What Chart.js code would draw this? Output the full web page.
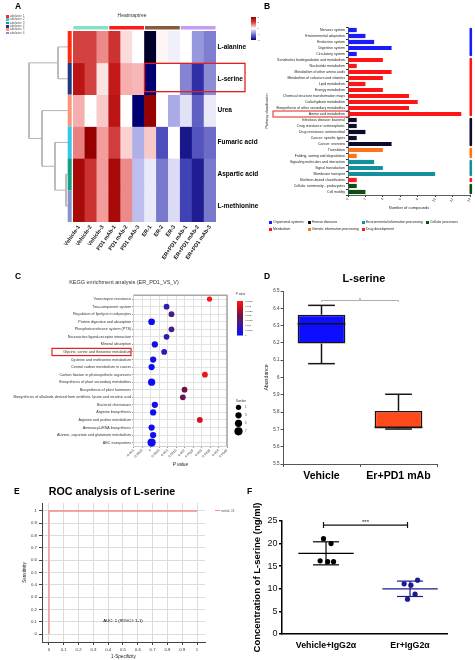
<!DOCTYPE html>
<html>
<head>
<meta charset="utf-8">
<title>L-serine figure</title>
<script src="https://cdn.jsdelivr.net/npm/chart.js@4.4.1/dist/chart.umd.min.js"></script>
<style>
  body { margin: 0; background: #fff; }
  #fig { position: relative; width: 475px; height: 660px; overflow: hidden; font-family: "Liberation Sans", Arial, sans-serif; }
  #fig canvas { position: absolute; }
  .txt { position: absolute; white-space: nowrap; line-height: 1; color: #000; }
  .mid { transform: translate(-50%, -50%); }
  .letter { font-weight: bold; font-size: 8.5px; }
  .key i { display: inline-block; vertical-align: middle; margin-right: 1px; }
</style>
</head>
<body>
<div id="fig">
  <canvas id="tree" width="73" height="275" style="left:0;top:0"></canvas>
  <canvas id="heat" width="265" height="275" style="left:0;top:0"></canvas>
  <canvas id="kegg" width="235" height="195" style="left:240px;top:20px"></canvas>
  <canvas id="bubble" width="262" height="185" style="left:0;top:285px"></canvas>
  <canvas id="box" width="240" height="195" style="left:235px;top:285px"></canvas>
  <canvas id="roc" width="240" height="165" style="left:0;top:495px"></canvas>
  <canvas id="dots" width="240" height="165" style="left:235px;top:495px"></canvas>

  <div class="txt letter" style="left:15px;top:1.5px">A</div>
  <div class="txt mid" style="left:132px;top:15px;font-size:5px;color:#333">Heatmaptree</div>
  <div class="txt letter" style="left:264px;top:1.5px">B</div>
  <div class="txt letter" style="left:15px;top:271.5px">C</div>
  <div class="txt mid" style="left:124px;top:283px;font-size:5.5px;color:#333">KEGG enrichment analysis (ER_PD1_VS_V)</div>
  <div class="txt letter" style="left:264px;top:271.5px">D</div>
  <div class="txt mid" style="left:364px;top:277.5px;font-size:11px;font-weight:bold">L-serine</div>
  <div class="txt letter" style="left:14px;top:486.5px">E</div>
  <div class="txt mid" style="left:112px;top:490.5px;font-size:10.7px;font-weight:bold">ROC analysis of L-serine</div>
  <div class="txt mid" style="left:123px;top:621px;font-size:4.3px">AUC: 1 (95%CI: 1-1)</div>
  <div class="txt key" style="left:215px;top:509.5px;font-size:3px;color:#555"><i style="width:5px;height:0.8px;background:#f38b8b"></i>metab_24</div>
  <div class="txt letter" style="left:247px;top:486.5px">F</div>
  <div id="subKey"></div>
  <div id="pathKey"></div>
</div>
<script>
// ---- A: heatmap ----
const heatCols = ["Vehicle-1", "Vehicle-2", "Vehicle-3", "PD1 mAb-1", "PD1 mAb-2", "PD1 mAb-3",
  "ER-1", "ER-2", "ER-3", "ER+PD1 mAb-1", "ER+PD1 mAb-2", "ER+PD1 mAb-3"];
const colGroupOf = [0, 0, 0, 1, 1, 1, 2, 2, 2, 3, 3, 3];
const heatRows = ["L-alanine", "L-serine", "Urea", "Fumaric acid", "Aspartic acid", "L-methionine"];
const heatVals = [
  [1.1, 1.1, 0.65, 1.25, 0.2, 0, -2.5, 0.05, -0.1, 0, -0.75, -0.95],
  [1.6, 1.1, 0.15, 1.5, 0.45, 0.4, -2, 0, 0, -0.9, -1.6, -0.85],
  [0.45, 0, 0.3, 1.6, 0, -2, 2, 0, -0.6, -0.2, -1.2, -0.15],
  [0.7, 2, 0.55, 1.15, 0.25, -0.55, 0.3, -1.35, 0, -1.8, -1.3, -1.1],
  [1.8, 1.25, 0.55, 1.8, 0.65, -0.45, -0.15, -1.0, -0.25, -1.45, -1.75, -1.0],
  [1.8, 1.25, 0.55, 1.8, 0.65, -0.45, -0.15, -1.0, -0.25, -1.45, -1.75, -1.0]
];
const subclusters = ["subcluster_1", "subcluster_2", "subcluster_3", "subcluster_4", "subcluster_5", "subcluster_6"];
const rowCluster = [0, 3, 4, 1, 2, 5];
// [left node, right node, height]; leaves are 0-5, merges get ids 6, 7, ...
const treeMerges = [[0, 1, 10], [4, 5, 2], [3, 7, 13], [2, 8, 26], [6, 9, 39]];
const heatScale = [2, 1, 0, -1, -2];

// ---- B: pathway classification ----
const bPaths = ["Nervous system", "Environmental adaptation", "Endocrine system", "Digestive system",
  "Circulatory system", "Xenobiotics biodegradation and metabolism", "Nucleotide metabolism",
  "Metabolism of other amino acids", "Metabolism of cofactors and vitamins", "Lipid metabolism",
  "Energy metabolism", "Chemical structure transformation maps", "Carbohydrate metabolism",
  "Biosynthesis of other secondary metabolites", "Amino acid metabolism", "Infectious disease: bacterial",
  "Drug resistance: antineoplastic", "Drug resistance: antimicrobial", "Cancer: specific types",
  "Cancer: overview", "Translation", "Folding, sorting and degradation", "Signaling molecules and interaction",
  "Signal transduction", "Membrane transport", "Skeleton-based classification",
  "Cellular community - prokaryotes", "Cell motility"];
const bCounts = [1, 2, 3, 5, 1, 4, 1, 5, 4, 2, 4, 7, 8, 7, 13, 1, 1, 2, 1, 5, 4, 1, 3, 4, 10, 1, 1, 2];
const bGroups = ["Organismal systems", "Metabolism", "Human diseases", "Genetic information processing",
  "Environmental information processing", "Drug development", "Cellular processes"];
const bGroupOf = [0, 0, 0, 0, 0, 1, 1, 1, 1, 1, 1, 1, 1, 1, 1, 2, 2, 2, 2, 2, 3, 3, 4, 4, 4, 5, 6, 6];
const bTicks = [0, 2, 4, 6, 8, 10, 12, 14];

// ---- C: KEGG enrichment ----
const cPaths = ["Vancomycin resistance", "Two-component system", "Regulation of lipolysis in adipocytes",
  "Protein digestion and absorption", "Phosphotransferase system (PTS)", "Neuroactive ligand-receptor interaction",
  "Mineral absorption", "Glycine, serine and threonine metabolism", "Cysteine and methionine metabolism",
  "Central carbon metabolism in cancer", "Carbon fixation in photosynthetic organisms",
  "Biosynthesis of plant secondary metabolites", "Biosynthesis of plant hormones",
  "Biosynthesis of alkaloids derived from ornithine, lysine and nicotinic acid", "Bacterial chemotaxis",
  "Arginine biosynthesis", "Arginine and proline metabolism", "Aminoacyl-tRNA biosynthesis",
  "Alanine, aspartate and glutamate metabolism", "ABC transporters"];
const cPvals = [0.00347, 0.00094, 0.00123, 0.00006, 0.00123, 0.00094, 0.00025, 0.0008, 0.00015, 0.00006,
  0.0032, 0.00006, 0.002, 0.0019, 0.00025, 0.00015, 0.0029, 0.00006, 0.00015, 0.00006];
const cCounts = [1, 2, 2, 4, 2, 2, 3, 2, 3, 3, 2, 5, 2, 2, 3, 3, 2, 3, 3, 7];
const cNumberKey = [1, 3, 5, 7];
const cPvalKey = [0.0035, 0.003, 0.0025, 0.002, 0.0015, 0.001, 0.0005, 0];

// ---- D: box plot ----
const boxGroups = ["Vehicle", "Er+PD1 mAb"];
const boxMin = [6.08, 5.702];
const boxQ1 = [6.196, 5.705];
const boxMed = [6.311, 5.712];
const boxQ3 = [6.363, 5.807];
const boxMax = [6.417, 5.903];

// ---- E: ROC ----
const rocFpr = [0, 0, 1];
const rocTpr = [0, 1, 1];
const rocTicks = [0, 0.1, 0.2, 0.3, 0.4, 0.5, 0.6, 0.7, 0.8, 0.9, 1];

// ---- F: concentrations ----
const fGroups = ["Vehicle+IgG2\u03b1", "Er+IgG2\u03b1"];
const vehConc = [21.1, 20.0, 16.2, 16.0, 16.0];
const vehJitter = [-0.03, 0.06, -0.07, 0.02, 0.09];
const erConc = [11.9, 11.1, 10.8, 8.8, 7.7];
const erJitter = [0.09, -0.07, 0.01, 0.06, -0.03];
const fMean = [17.85, 10.0];
const fSd = [2.55, 1.7];
const fTicks = [0, 5, 10, 15, 20, 25];

// colours
const colGroupColors = ["#86e0c9", "#ff1a1a", "#8a5a3a", "#c49cf2"];
const subclusterColors = ["#ff2a12", "#33c6e8", "#14a082", "#1c3a82", "#f8977a", "#8595cc"];
const bColors = ["#1a1aff", "#ff1515", "#0b0b2a", "#ff7417", "#14909c", "#ff1a1a", "#0c4d12"];
const heatStops = [[-2.5, [0, 0, 40]], [-2, [0, 0, 112]], [-1.5, [60, 60, 180]], [-1, [120, 120, 205]],
  [-0.5, [182, 182, 236]], [0, [255, 255, 255]], [0.5, [245, 165, 165]], [1, [215, 75, 75]],
  [1.5, [195, 25, 25]], [2, [150, 0, 0]]];
const pStops = [[0, [10, 10, 255]], [0.0009, [45, 28, 175]], [0.00125, [72, 28, 135]],
  [0.002, [112, 18, 72]], [0.0029, [212, 15, 30]], [0.0035, [255, 22, 22]]];

Chart.defaults.font.family = '"Liberation Sans", Arial, sans-serif';
Chart.defaults.color = "#222";
Chart.defaults.plugins.legend.display = false;
Chart.defaults.plugins.tooltip.enabled = false;

function mixStops(stops, v) {
  if (v <= stops[0][0]) return stops[0][1];
  for (let i = 1; i < stops.length; i++) {
    if (v <= stops[i][0]) {
      const a = stops[i - 1], b = stops[i], t = (v - a[0]) / (b[0] - a[0]);
      return a[1].map((c, k) => Math.round(c + (b[1][k] - c) * t));
    }
  }
  return stops[stops.length - 1][1];
}
const rgb = c => "rgb(" + c[0] + "," + c[1] + "," + c[2] + ")";
const heatColor = v => rgb(mixStops(heatStops, v));
const pColor = v => rgb(mixStops(pStops, v));
const bubbleR = n => 2.4 + 0.24 * n;
const fixSize = px => s => { if (s.isHorizontal()) s.height = px; else s.width = px; };

function gradientBar(ctx, stops, lo, hi, x, y, w, h) {
  const g = ctx.createLinearGradient(0, y, 0, y + h);
  stops.filter(s => s[0] >= lo && s[0] <= hi)
    .forEach(s => g.addColorStop((hi - s[0]) / (hi - lo), rgb(s[1])));
  ctx.fillStyle = g;
  ctx.fillRect(x, y, w, h);
}

// small html keys
(function () {
  let html = "";
  subclusters.forEach((s, k) => {
    html += '<div class="txt key" style="left:6px;top:' + (15 + k * 3.3) + 'px;font-size:2.6px;color:#444">' +
      '<i style="width:2.7px;height:2.7px;background:' + subclusterColors[k] + '"></i>' + s + "</div>";
  });
  document.getElementById("subKey").innerHTML = html;
  const keyX = [269, 308, 362, 426], keyY = [220.5, 227.5];
  html = "";
  bGroups.forEach((g, k) => {
    html += '<div class="txt key" style="left:' + keyX[Math.floor(k / 2)] + 'px;top:' + keyY[k % 2] +
      'px;font-size:3.4px;color:#222"><i style="width:3px;height:3px;background:' + bColors[k] + '"></i>' + g + "</div>";
  });
  document.getElementById("pathKey").innerHTML = html;
})();

// ---- A: dendrogram ----
const treeNodes = heatRows.map((_, i) => ({ y: i + 0.5, h: 0 }));
treeMerges.forEach(m => treeNodes.push({ y: (treeNodes[m[0]].y + treeNodes[m[1]].y) / 2, h: m[2] }));
new Chart(document.getElementById("tree"), {
  type: "scatter",
  data: {
    datasets: treeMerges.map(m => {
      const a = treeNodes[m[0]], b = treeNodes[m[1]];
      return {
        data: [{ x: a.h, y: a.y }, { x: m[2], y: a.y }, { x: m[2], y: b.y }, { x: b.h, y: b.y }],
        showLine: true, borderColor: "#b3b3b3", borderWidth: 1, pointRadius: 0, clip: false
      };
    })
  },
  options: {
    responsive: false, animation: false,
    layout: { padding: { left: 28, right: 5, top: 31, bottom: 53 } },
    scales: {
      x: { type: "linear", min: 0, max: 40, reverse: true, display: false },
      y: { min: 0, max: 6, reverse: true, display: false }
    }
  }
});

// ---- A: heatmap ----
const heatDecor = {
  id: "heatDecor",
  afterDraw(chart) {
    const { ctx, chartArea: a, scales: { x, y } } = chart;
    const w = (a.right - a.left) / heatCols.length;
    ctx.save();
    colGroupColors.forEach((c, k) => {
      const cols = colGroupOf.map((g, j) => g === k ? j : -1).filter(j => j >= 0);
      const x0 = x.getPixelForValue(cols[0]) - w / 2, x1 = x.getPixelForValue(cols[cols.length - 1]) + w / 2;
      ctx.fillStyle = c;
      ctx.fillRect(x0 + 0.5, a.top - 5, x1 - x0 - 1, 3.5);
    });
    heatRows.forEach((r, i) => {
      const y0 = y.getPixelForValue(i), y1 = y.getPixelForValue(i + 1);
      ctx.fillStyle = subclusterColors[rowCluster[i]];
      ctx.fillRect(a.left - 5.3, y0, 4, y1 - y0);
    });
    // colour scale
    gradientBar(ctx, heatStops, -2, 2, 251, 17, 5, 23);
    ctx.fillStyle = "#444";
    ctx.font = "2.5px 'Liberation Sans', Arial";
    ctx.textBaseline = "middle";
    heatScale.forEach(v => ctx.fillText(String(v), 257.5, 17 + (2 - v) / 4 * 23));
    // highlight L-serine
    ctx.strokeStyle = "#e41e1e";
    ctx.lineWidth = 1.3;
    const hx = x.getPixelForValue(6) - w / 2;
    ctx.strokeRect(hx, y.getPixelForValue(1) + 0.5, 245 - hx, y.getPixelForValue(2) - y.getPixelForValue(1) - 3.5);
    ctx.restore();
  }
};
new Chart(document.getElementById("heat"), {
  type: "bar",
  data: {
    labels: heatCols,
    datasets: heatRows.map((name, i) => ({
      label: name,
      data: heatCols.map(() => [i, i + 1]),
      backgroundColor: heatVals[i].map(heatColor),
      borderWidth: 0, grouped: false, barPercentage: 1, categoryPercentage: 1
    }))
  },
  options: {
    responsive: false, animation: false,
    layout: { padding: { left: 73, top: 31 } },
    scales: {
      x: {
        grid: { display: false, drawTicks: false }, border: { display: false },
        ticks: { font: { size: 5.5, weight: "bold" }, color: "#111", minRotation: 55, maxRotation: 55, padding: 2, autoSkip: false },
        afterFit: fixSize(53)
      },
      y: {
        position: "right", min: 0, max: 6, reverse: true,
        grid: { display: false, drawTicks: false }, border: { display: false },
        afterBuildTicks: s => { s.ticks = heatRows.map((_, i) => ({ value: i + 0.5 })); },
        ticks: { callback: v => heatRows[Math.floor(v)], font: { size: 6.5, weight: "bold" }, color: "#000", padding: 1.5 },
        afterFit: fixSize(49)
      }
    }
  },
  plugins: [heatDecor]
});

// ---- B: pathway classification ----
const bDecor = {
  id: "bDecor",
  afterDraw(chart) {
    const { ctx, scales: { x, y } } = chart;
    const step = y.getPixelForValue(1) - y.getPixelForValue(0);
    const px = x.getPixelForValue(bTicks[bTicks.length - 1]);
    ctx.save();
    ctx.lineCap = "round";
    ctx.lineWidth = 2.6;
    let start = 0;
    for (let i = 1; i <= bGroupOf.length; i++) {
      if (i === bGroupOf.length || bGroupOf[i] !== bGroupOf[start]) {
        ctx.strokeStyle = bColors[bGroupOf[start]];
        ctx.beginPath();
        ctx.moveTo(px + 0.8, y.getPixelForValue(start) - step / 2 + 2);
        ctx.lineTo(px + 0.8, y.getPixelForValue(i - 1) + step / 2 - 2);
        ctx.stroke();
        start = i;
      }
    }
    const ay = y.getPixelForValue(bPaths.indexOf("Amino acid metabolism"));
    ctx.strokeStyle = "#e41e1e";
    ctx.lineWidth = 1;
    ctx.lineCap = "butt";
    ctx.strokeRect(33, ay - 3, 76.5, 6);
    ctx.restore();
  }
};
new Chart(document.getElementById("kegg"), {
  type: "bar",
  data: {
    labels: bPaths,
    datasets: bGroups.map((g, k) => ({
      label: g,
      data: bCounts.map((v, i) => bGroupOf[i] === k ? v : null),
      backgroundColor: bColors[k],
      grouped: false, barPercentage: 0.7, categoryPercentage: 1
    }))
  },
  options: {
    indexAxis: "y", responsive: false, animation: false,
    layout: { padding: { left: 25, right: 5, top: 7 } },
    scales: {
      x: {
        min: 0, max: 14,
        afterBuildTicks: s => { s.ticks = bTicks.map(v => ({ value: v })); },
        ticks: { font: { size: 3.4 }, color: "#333", minRotation: 60, maxRotation: 60, padding: 0.5, autoSkip: false },
        grid: { drawOnChartArea: false, tickLength: 2, tickColor: "#333" },
        border: { color: "#333", width: 0.8 },
        title: { display: true, text: "Number of compounds", font: { size: 4 }, color: "#222", padding: { top: 0, bottom: 4.5 } },
        afterFit: fixSize(20)
      },
      y: {
        ticks: { font: { size: 3.5 }, color: "#222", autoSkip: false, padding: 1 },
        grid: { drawOnChartArea: false, tickLength: 2, tickColor: "#333" },
        border: { color: "#333", width: 0.8 },
        title: { display: true, text: "Pathway classification", font: { size: 3.6 }, color: "#222", padding: 0 },
        afterFit: fixSize(83)
      }
    }
  },
  plugins: [bDecor]
});

// ---- C: KEGG enrichment bubbles ----
const cDecor = {
  id: "cDecor",
  afterDraw(chart) {
    const { ctx, chartArea: a, scales: { y } } = chart;
    ctx.save();
    ctx.strokeStyle = "#a8a8a8";
    ctx.lineWidth = 1.6;
    ctx.beginPath();
    ctx.moveTo(a.left, a.top); ctx.lineTo(a.right, a.top); ctx.lineTo(a.right, a.bottom);
    ctx.stroke();
    // p value scale
    ctx.font = "2.8px 'Liberation Sans', Arial";
    ctx.fillStyle = "#333";
    ctx.textBaseline = "middle";
    ctx.fillText("P value", 236, 9);
    gradientBar(ctx, pStops, 0, 0.0035, 237, 16, 6, 34.5);
    ctx.font = "2.5px 'Liberation Sans', Arial";
    ctx.fillStyle = "#333";
    cPvalKey.forEach(v => ctx.fillText(String(v), 245, 16 + (0.0035 - v) / 0.0035 * 34.5));
    // number key
    ctx.font = "2.8px 'Liberation Sans', Arial";
    ctx.fillText("Number", 236, 116);
    cNumberKey.forEach((n, k) => {
      const cy = 122.3 + k * 8;
      ctx.fillStyle = "#000";
      ctx.beginPath(); ctx.arc(238.5, cy, bubbleR(n), 0, Math.PI * 2); ctx.fill();
      ctx.fillStyle = "#333";
      ctx.fillText(String(n), 245, cy);
    });
    // highlight glycine pathway
    const gy = y.getPixelForValue(cPaths.indexOf("Glycine, serine and threonine metabolism"));
    ctx.strokeStyle = "#e41e1e";
    ctx.lineWidth = 1.2;
    ctx.strokeRect(52, gy - 3.6, 79, 7.2);
    ctx.restore();
  }
};
new Chart(document.getElementById("bubble"), {
  type: "bubble",
  data: {
    datasets: [{
      data: cPaths.map((p, i) => ({ x: cPvals[i], y: p, r: bubbleR(cCounts[i]) })),
      backgroundColor: cPvals.map(pColor),
      borderWidth: 0
    }]
  },
  options: {
    responsive: false, animation: false,
    layout: { padding: { top: 10.3, right: 35 } },
    scales: {
      x: {
        type: "linear", min: -0.001, max: 0.0045,
        ticks: { stepSize: 0.0005, font: { size: 3.4 }, color: "#333", minRotation: 45, maxRotation: 45, padding: 0.5,
          autoSkip: false, callback: v => String(+v.toFixed(4)) },
        grid: { color: "#e2e2e2", tickLength: 1.5, tickColor: "#888" },
        border: { color: "#d0d0d0" },
        title: { display: true, text: "P value", font: { size: 4.6, style: "italic" }, color: "#222", padding: { top: 0, bottom: 3 } },
        afterFit: fixSize(23.6)
      },
      y: {
        type: "category", labels: cPaths, offset: true,
        ticks: { font: { size: 3.7 }, color: "#333", autoSkip: false, padding: 1 },
        grid: { color: "#e2e2e2", tickLength: 1.5, tickColor: "#888" },
        border: { color: "#d0d0d0" },
        afterFit: fixSize(133.6)
      }
    }
  },
  plugins: [cDecor]
});

// ---- D: box plot ----
const boxDecor = {
  id: "boxDecor",
  afterDatasetsDraw(chart) {
    const { ctx, scales: { x, y } } = chart;
    const line = (x0, y0, x1, y1) => { ctx.beginPath(); ctx.moveTo(x0, y0); ctx.lineTo(x1, y1); ctx.stroke(); };
    ctx.save();
    ctx.strokeStyle = "#151515";
    ctx.lineWidth = 1.5;
    chart.getDatasetMeta(0).data.forEach((bar, i) => {
      const half = bar.width / 2, cap = bar.width * 0.28;
      line(bar.x - half, y.getPixelForValue(boxMed[i]), bar.x + half, y.getPixelForValue(boxMed[i]));
      line(bar.x, y.getPixelForValue(boxQ3[i]), bar.x, y.getPixelForValue(boxMax[i]));
      line(bar.x - cap, y.getPixelForValue(boxMax[i]), bar.x + cap, y.getPixelForValue(boxMax[i]));
      line(bar.x, y.getPixelForValue(boxQ1[i]), bar.x, y.getPixelForValue(boxMin[i]));
      line(bar.x - cap, y.getPixelForValue(boxMin[i]), bar.x + cap, y.getPixelForValue(boxMin[i]));
    });
    // significance bracket
    const x0 = x.getPixelForValue(0), x1 = x.getPixelForValue(1), by = y.getPixelForValue(6.445);
    ctx.strokeStyle = "#9a9a9a";
    ctx.lineWidth = 0.8;
    ctx.beginPath();
    ctx.moveTo(x0, by + 1.5); ctx.lineTo(x0, by); ctx.lineTo(x1, by); ctx.lineTo(x1, by + 1.5);
    ctx.stroke();
    ctx.fillStyle = "#ee1c1c";
    ctx.font = "5px 'Liberation Sans', Arial";
    ctx.textAlign = "center";
    ctx.textBaseline = "middle";
    ctx.fillText("*", (x0 + x1) / 2, by - 0.3);
    ctx.restore();
  }
};
new Chart(document.getElementById("box"), {
  type: "bar",
  data: {
    labels: boxGroups,
    datasets: [{
      data: boxGroups.map((_, i) => [boxQ1[i], boxQ3[i]]),
      backgroundColor: ["#0d0dff", "#ff4a1c"],
      borderColor: "#151515", borderWidth: 1.5, borderSkipped: false,
      barPercentage: 0.62, categoryPercentage: 1
    }]
  },
  options: {
    responsive: false, animation: false,
    layout: { padding: { left: 28, right: 38, top: 6 } },
    scales: {
      x: {
        grid: { drawOnChartArea: false, tickLength: 3, color: "#555" },
        border: { color: "#555", width: 1 },
        ticks: { font: { size: 10.6, weight: "bold" }, color: "#000", padding: 3 },
        afterFit: fixSize(16)
      },
      y: {
        min: 5.5, max: 6.5,
        ticks: { stepSize: 0.1, font: { size: 4.5 }, color: "#333", padding: 1, callback: v => String(+v.toFixed(1)) },
        grid: { drawOnChartArea: false, tickLength: 2.5, color: "#555" },
        border: { color: "#555", width: 1 },
        title: { display: true, text: "Abundance", font: { size: 5.2 }, color: "#222", padding: 0 },
        afterFit: fixSize(20)
      }
    }
  },
  plugins: [boxDecor]
});

// ---- E: ROC ----
new Chart(document.getElementById("roc"), {
  type: "scatter",
  data: {
    datasets: [{
      data: rocFpr.map((v, i) => ({ x: v, y: rocTpr[i] })),
      showLine: true, borderColor: "#f38b8b", borderWidth: 1.3, pointRadius: 0, clip: false
    }]
  },
  options: {
    responsive: false, animation: false,
    layout: { padding: { left: 22, right: 35, top: 8 } },
    scales: {
      x: {
        min: -0.047, max: 1.054,
        afterBuildTicks: s => { s.ticks = rocTicks.map(v => ({ value: v })); },
        ticks: { font: { size: 4.3 }, color: "#333", padding: 2, maxRotation: 0, autoSkip: false, callback: v => String(+v.toFixed(1)) },
        grid: { color: "#dcdcdc", tickLength: 3, tickColor: "#444" },
        border: { color: "#444", width: 1 },
        title: { display: true, text: "1-Specificity", font: { size: 4.6 }, color: "#222", padding: { top: 0, bottom: 0.3 } },
        afterFit: fixSize(18)
      },
      y: {
        min: -0.065, max: 1.065,
        afterBuildTicks: s => { s.ticks = rocTicks.map(v => ({ value: v })); },
        ticks: { font: { size: 4.3 }, color: "#333", padding: 2, autoSkip: false, callback: v => String(+v.toFixed(1)) },
        grid: { color: "#dcdcdc", tickLength: 3, tickColor: "#444" },
        border: { color: "#444", width: 1 },
        title: { display: true, text: "Sensitivity", font: { size: 4.6 }, color: "#222", padding: 0 },
        afterFit: fixSize(20)
      }
    }
  }
});

// ---- F: concentration dot plot ----
const dotDecor = {
  id: "dotDecor",
  afterDatasetsDraw(chart) {
    const { ctx, scales: { x, y } } = chart;
    const colors = ["#000", "#1b1b8f"];
    const line = (x0, y0, x1, y1) => { ctx.beginPath(); ctx.moveTo(x0, y0); ctx.lineTo(x1, y1); ctx.stroke(); };
    ctx.save();
    ctx.lineWidth = 1.2;
    fMean.forEach((m, i) => {
      const c = i + 1;
      ctx.strokeStyle = colors[i];
      line(x.getPixelForValue(c - 0.33), y.getPixelForValue(m), x.getPixelForValue(c + 0.33), y.getPixelForValue(m));
      line(x.getPixelForValue(c), y.getPixelForValue(m - fSd[i]), x.getPixelForValue(c), y.getPixelForValue(m + fSd[i]));
      line(x.getPixelForValue(c - 0.155), y.getPixelForValue(m + fSd[i]), x.getPixelForValue(c + 0.155), y.getPixelForValue(m + fSd[i]));
      line(x.getPixelForValue(c - 0.155), y.getPixelForValue(m - fSd[i]), x.getPixelForValue(c + 0.155), y.getPixelForValue(m - fSd[i]));
    });
    const x0 = x.getPixelForValue(0.97), x1 = x.getPixelForValue(1.97), by = y.getPixelForValue(24.1);
    ctx.strokeStyle = "#111";
    ctx.beginPath();
    ctx.moveTo(x0, by - 3); ctx.lineTo(x0, by + 3);
    ctx.moveTo(x0, by); ctx.lineTo(x1, by);
    ctx.moveTo(x1, by - 3); ctx.lineTo(x1, by + 3);
    ctx.stroke();
    ctx.fillStyle = "#111";
    ctx.font = "6px 'Liberation Sans', Arial";
    ctx.textAlign = "center";
    ctx.textBaseline = "middle";
    ctx.fillText("***", (x0 + x1) / 2, by - 3.2);
    ctx.restore();
  }
};
new Chart(document.getElementById("dots"), {
  type: "scatter",
  data: {
    datasets: [
      { data: vehConc.map((v, i) => ({ x: 1 + vehJitter[i], y: v })), backgroundColor: "#000", pointRadius: 2.6, borderWidth: 0 },
      { data: erConc.map((v, i) => ({ x: 2 + erJitter[i], y: v })), backgroundColor: "#1b1b8f", pointRadius: 2.6, borderWidth: 0 }
    ]
  },
  options: {
    responsive: false, animation: false,
    layout: { padding: { left: 17, right: 28, top: 26 } },
    scales: {
      x: {
        min: 0.476, max: 2.44,
        afterBuildTicks: s => { s.ticks = [{ value: 1 }, { value: 2 }]; },
        ticks: { font: { size: 8.8, weight: "bold" }, color: "#000", padding: 6, maxRotation: 0, callback: v => fGroups[v - 1] },
        grid: { display: false, drawTicks: false },
        border: { color: "#000", width: 1.5 },
        afterFit: fixSize(26)
      },
      y: {
        min: 0, max: 25,
        afterBuildTicks: s => { s.ticks = fTicks.map(v => ({ value: v })); },
        ticks: { font: { size: 9 }, color: "#111", padding: 1.5 },
        grid: { drawOnChartArea: false, tickLength: 3, color: "#000", lineWidth: 1.5 },
        border: { color: "#000", width: 1.5 },
        title: { display: true, text: "Concentration of L-serine (ng/ml)", font: { size: 9.5, weight: "bold" }, color: "#000", padding: 0 },
        afterFit: fixSize(30)
      }
    }
  },
  plugins: [dotDecor]
});
</script>
</body>
</html>
